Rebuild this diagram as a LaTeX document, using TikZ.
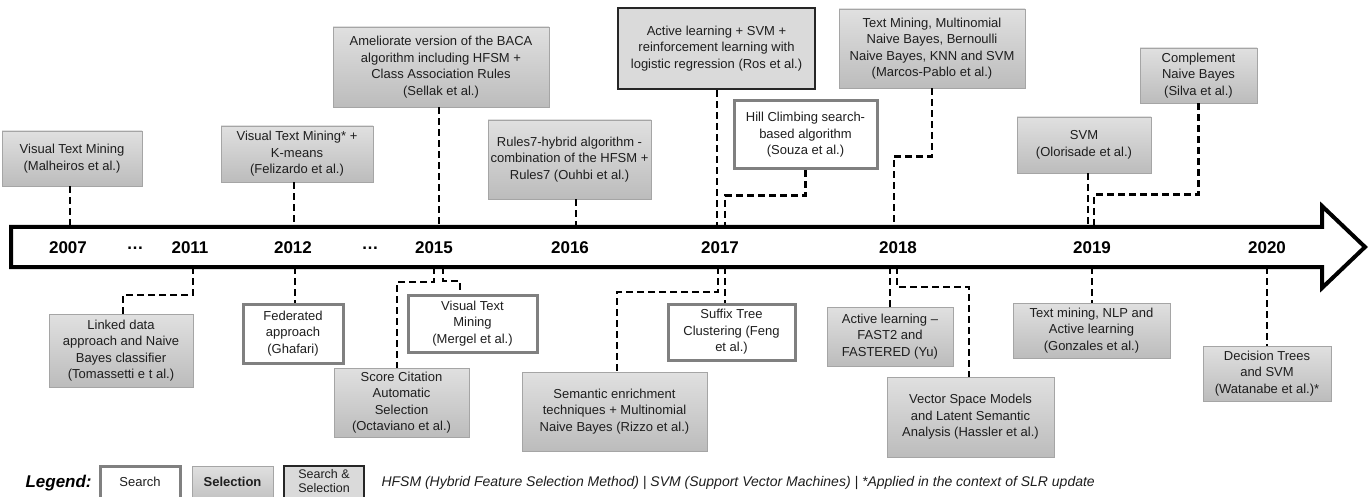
\documentclass[tikz,border=0pt]{standalone}
\usepackage{fontspec}
\setmainfont{Liberation Sans}
\definecolor{selTop}{RGB}{224,224,224}
\definecolor{selBot}{RGB}{188,188,188}
\definecolor{selBorder}{RGB}{165,165,165}
\definecolor{srchBorder}{RGB}{128,128,128}
\definecolor{bothFill}{RGB}{218,218,218}
\definecolor{bothBorder}{RGB}{38,38,38}
\definecolor{txt}{RGB}{30,30,30}
\begin{document}
\begin{tikzpicture}[x=1pt,y=-1pt,
  every node/.style={text=txt},
  boxbase/.style={inner sep=0pt, align=center, font=\fontsize{13}{16.5}\selectfont},
  selbox/.style={boxbase, draw=selBorder, line width=0.8pt, top color=selTop, bottom color=selBot},
  srchbox/.style={boxbase, draw=srchBorder, line width=3pt, fill=white},
  bothbox/.style={boxbase, draw=bothBorder, line width=2.4pt, fill=bothFill},
  sz/.style 2 args={minimum width=#1, minimum height=#2},
  dl/.style={line width=2.8pt, dash pattern=on 7pt off 4pt},
  year/.style={font=\bfseries\fontsize{17}{20}\selectfont, text=black}
]
\useasboundingbox (0,0) rectangle (1371,497);
\clip (0,0) rectangle (1371,497);

% ---------- top boxes ----------
\node[selbox, sz={140}{55}] (mal) at (72,158.5) {Visual Text Mining\\(Malheiros et al.)};
\node[selbox, sz={152}{56}] (fel) at (297,154) {Visual Text Mining* +\\K-means\\(Felizardo et al.)};
\node[selbox, sz={216}{80}] (sel) at (441,67) {Ameliorate version of the BACA\\algorithm including HFSM +\\Class Association Rules\\(Sellak et al.)};
\node[selbox, sz={163}{79}] (ouh) at (569.5,159.5) {Rules7-hybrid algorithm -\\combination of the HFSM +\\Rules7 (Ouhbi et al.)};
\node[bothbox, sz={197}{81}] (ros) at (716.5,48.5) {Active learning + SVM +\\reinforcement learning with\\logistic regression (Ros et al.)};
\node[srchbox, sz={143}{68}] (sou) at (805.5,135) {Hill Climbing search-\\based algorithm\\(Souza et al.)};
\node[selbox, sz={186}{79}] (mar) at (932,48.5) {Text Mining, Multinomial\\Naive Bayes, Bernoulli\\Naive Bayes, KNN and SVM\\(Marcos-Pablo et al.)};
\node[selbox, sz={134}{56}] (olo) at (1084,145) {SVM\\(Olorisade et al.)};
\node[selbox, sz={117}{55}] (sil) at (1198.5,75.5) {Complement\\Naive Bayes\\(Silva et al.)};

% ---------- bottom boxes ----------
\node[selbox, sz={144}{73}] (tom) at (121,350.5) {Linked data\\approach and Naive\\Bayes classifier\\(Tomassetti e t al.)};
\node[srchbox, sz={100}{59}] (gha) at (293,333.5) {Federated\\approach\\(Ghafari)};
\node[selbox, sz={135}{69}] (oct) at (401.5,402.5) {Score Citation\\Automatic\\Selection\\(Octaviano et al.)};
\node[srchbox, sz={129}{57}] (mer) at (472.5,323.5) {Visual Text\\Mining\\(Mergel et al.)};
\node[selbox, sz={185}{79}] (riz) at (614.5,411.5) {Semantic enrichment\\techniques + Multinomial\\Naive Bayes (Rizzo et al.)};
\node[srchbox, sz={127}{56}] (fen) at (731.5,332) {Suffix Tree\\Clustering (Feng\\et al.)};
\node[selbox, sz={126}{59}] (yu) at (890,336.5) {Active learning --\\FAST2 and\\FASTERED (Yu)};
\node[selbox, sz={167}{80}] (has) at (970.5,417) {Vector Space Models\\and Latent Semantic\\Analysis (Hassler et al.)};
\node[selbox, sz={157}{55}] (gon) at (1091.5,330.5) {Text mining, NLP and\\Active learning\\(Gonzales et al.)};
\node[selbox, sz={128}{55}] (wat) at (1267,373.5) {Decision Trees\\and SVM\\(Watanabe et al.)*};

% ---------- anchor points on the timeline ----------
\coordinate (u1) at (70,227);
\coordinate (u2) at (294,227);
\coordinate (u3) at (439,227);
\coordinate (u4) at (576,227);
\coordinate (u5) at (717,227);
\coordinate (u6) at (725,227);
\coordinate (u7) at (894,227);
\coordinate (u8) at (1088,227);
\coordinate (u9) at (1094,227);
\coordinate (l1) at (193,267);
\coordinate (l2) at (295,267);
\coordinate (l3) at (434,267);
\coordinate (l4) at (443,267);
\coordinate (l5) at (718,267);
\coordinate (l6) at (725,267);
\coordinate (l7) at (890,267);
\coordinate (l8) at (897,267);
\coordinate (l9) at (1092,267);
\coordinate (l10) at (1267,267);

% ---------- connectors ----------
\draw[dl] (u1 |- mal.south) -- (u1);
\draw[dl] (u2 |- fel.south) -- (u2);
\draw[dl] (u3 |- sel.south) -- (u3);
\draw[dl] (u4 |- ouh.south) -- (u4);
\draw[dl] (u5 |- ros.south) -- (u5);
\draw[dl] (sou.south) -- ++(0,25) -| (u6);
\draw[dl] (mar.south) -- ++(0,68) -| (u7);
\draw[dl] (u8 |- olo.south) -- (u8);
\draw[dl] (sil.south) -- ++(0,91) -| (u9);

\draw[dl] (l1) -- ++(0,28) -| ([xshift=2pt]tom.north);
\draw[dl] (l2) -- (l2 |- gha.north);
\draw[dl] (l3) -- ++(0,15) -| ([xshift=-4.5pt]oct.north);
\draw[dl] (l4) -- ++(0,14) -| ([xshift=-12.5pt]mer.north);
\draw[dl] (l5) -- ++(0,25) -| ([xshift=2.5pt]riz.north);
\draw[dl] (l6) -- (l6 |- fen.north);
\draw[dl] (l7) -- (l7 |- yu.north);
\draw[dl] (l8) -- ++(0,20) -| ([xshift=-1.5pt]has.north);
\draw[dl] (l9) -- (l9 |- gon.north);
\draw[dl] (l10) -- (l10 |- wat.north);

% ---------- timeline arrow ----------
\draw[line width=4pt, fill=white, line join=miter]
  (11,227) -- (1322,227) -- (1322,206) -- (1365,247) -- (1322,288) -- (1322,267) -- (11,267) -- cycle;

\node[year] (y2007) at (68,248) {2007};
\node[year] (d1) at (135,248) {\dots};
\node[year] (y2011) at (190,248) {2011};
\node[year] (y2012) at (293,248) {2012};
\node[year] (d2) at (370,248) {\dots};
\node[year] (y2015) at (434,248) {2015};
\node[year] (y2016) at (570,248) {2016};
\node[year] (y2017) at (720,248) {2017};
\node[year] (y2018) at (898,248) {2018};
\node[year] (y2019) at (1092,248) {2019};
\node[year] (y2020) at (1267,248) {2020};

% ---------- legend ----------
\node[anchor=west, font=\bfseries\itshape\fontsize{17}{20}\selectfont, text=black] (leg) at (22,483) {Legend:};
\node[srchbox, sz={80}{40}, font=\fontsize{13}{15}\selectfont, text depth=8pt] (lsrch) at (140,486) {Search};
\node[selbox, sz={81}{40}, font=\bfseries\fontsize{13}{15}\selectfont, text depth=8pt] (lsel) at (232.5,486) {Selection};
\node[bothbox, sz={80}{40}, font=\fontsize{12.5}{14.5}\selectfont, text depth=10pt] (lboth) at (324,486) {Search \&\\Selection};
\node[anchor=west, font=\itshape\fontsize{14}{16}\selectfont] (ltxt) at (378,483) {HFSM (Hybrid Feature Selection Method) | SVM (Support Vector Machines) | *Applied in the context of SLR update};
\end{tikzpicture}
\end{document}
